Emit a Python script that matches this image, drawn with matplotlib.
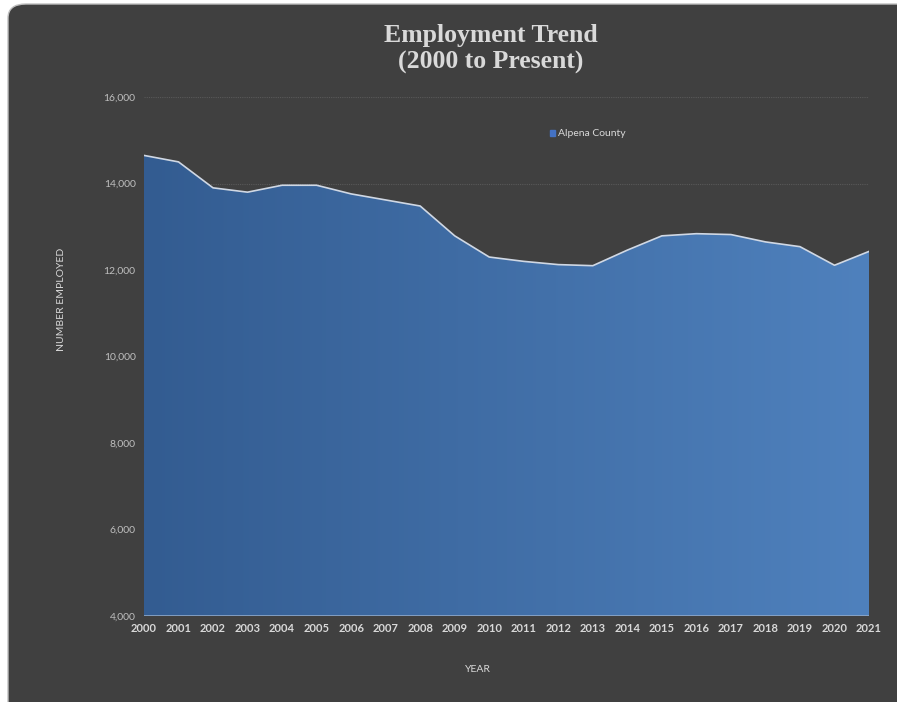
import numpy as np
import matplotlib
matplotlib.use("Agg")
import matplotlib.pyplot as plt
from matplotlib.patches import FancyBboxPatch
from matplotlib.ticker import FuncFormatter
from matplotlib.colors import LinearSegmentedColormap

years = list(range(2000, 2022))
employed = [14650, 14500, 13900, 13800, 13960, 13960, 13760, 13620, 13480,
            12790, 12300, 12200, 12125, 12100, 12460, 12790, 12840, 12820,
            12650, 12540, 12110, 12430]
series_name = "Alpena County"
yticks = [4000, 6000, 8000, 10000, 12000, 14000, 16000]

BG = "#404040"
TXT = "#D9D9D9"

fig = plt.figure(figsize=(8.97, 7.02), dpi=100)
fig.patch.set_facecolor("white")
frame = FancyBboxPatch((8 / 897, -0.05), 1.1, 1.05 - 4 / 702,
                       boxstyle="round,pad=0,rounding_size=0.02",
                       transform=fig.transFigure, facecolor=BG,
                       edgecolor="#BFBFBF", linewidth=1.0, zorder=-5)
fig.patches.append(frame)

ax = fig.add_axes([0.1605, 0.1225, 0.8083, 0.7393])
ax.set_zorder(2)
ax.set_facecolor("none")
ax.set_xlim(years[0], years[-1])
ax.set_ylim(4000, 16000)

# gradient-filled area
poly = ax.fill_between(years, 4000, employed, facecolor="none", edgecolor="none")
cmap = LinearSegmentedColormap.from_list("g", ["#335C91", "#4F81BD"])
grad = np.linspace(0, 1, 256).reshape(1, -1)
im = ax.imshow(grad, extent=[years[0], years[-1], 4000, 16000], aspect="auto",
               cmap=cmap, zorder=2)
im.set_clip_path(poly.get_paths()[0], transform=ax.transData)
ax.plot(years, employed, color="#D0D8E4", linewidth=1.2, zorder=3)
ax.plot([years[0], years[-1]], [4000, 4000], color="#8FA8C8", linewidth=1.2, zorder=3)
# legend handle
ax.fill_between([], [], color="#4472C4", label=series_name)

ax.set_yticks(yticks)
ax.set_xticks(years)
ax.yaxis.set_major_formatter(FuncFormatter(lambda v, p: f"{int(v):,}"))
ax.grid(axis="y", color="#595959", linestyle=(0, (1, 1)), linewidth=0.8, zorder=1)
ax.set_axisbelow(True)
for s in ax.spines.values():
    s.set_visible(False)
ax.tick_params(length=0)
for lab in ax.get_yticklabels():
    lab.set_fontfamily("Lato")
    lab.set_fontsize(7.5)
    lab.set_color("#BFBFBF")
for lab in ax.get_xticklabels():
    lab.set_fontfamily("Lato")
    lab.set_fontsize(8)
    lab.set_fontweight("bold")
    lab.set_color(TXT)
ax.tick_params(axis="y", pad=6)
ax.tick_params(axis="x", pad=5)

ax.set_xlabel("YEAR", fontsize=7.5, color=TXT, family="Lato")
ax.set_ylabel("NUMBER EMPLOYED", fontsize=7.5, color=TXT, family="Lato")
ax.xaxis.set_label_coords(0.461, -0.094)
ax.yaxis.set_label_coords(-0.108, 0.611)

leg = ax.legend(loc="center", bbox_to_anchor=(0.612, 0.929), frameon=False,
                prop={"family": "Lato", "size": 7.5}, handlelength=0.5,
                handleheight=0.5, handletextpad=0.3)
for t in leg.get_texts():
    t.set_color(TXT)

fig.text(0.547, 0.930, "Employment Trend\n(2000 to Present)", ha="center", va="center",
         fontsize=18.5, fontweight="bold", color=TXT, family="Liberation Serif",
         linespacing=1.2)

fig.savefig("out.png", dpi=100, facecolor=fig.get_facecolor())
